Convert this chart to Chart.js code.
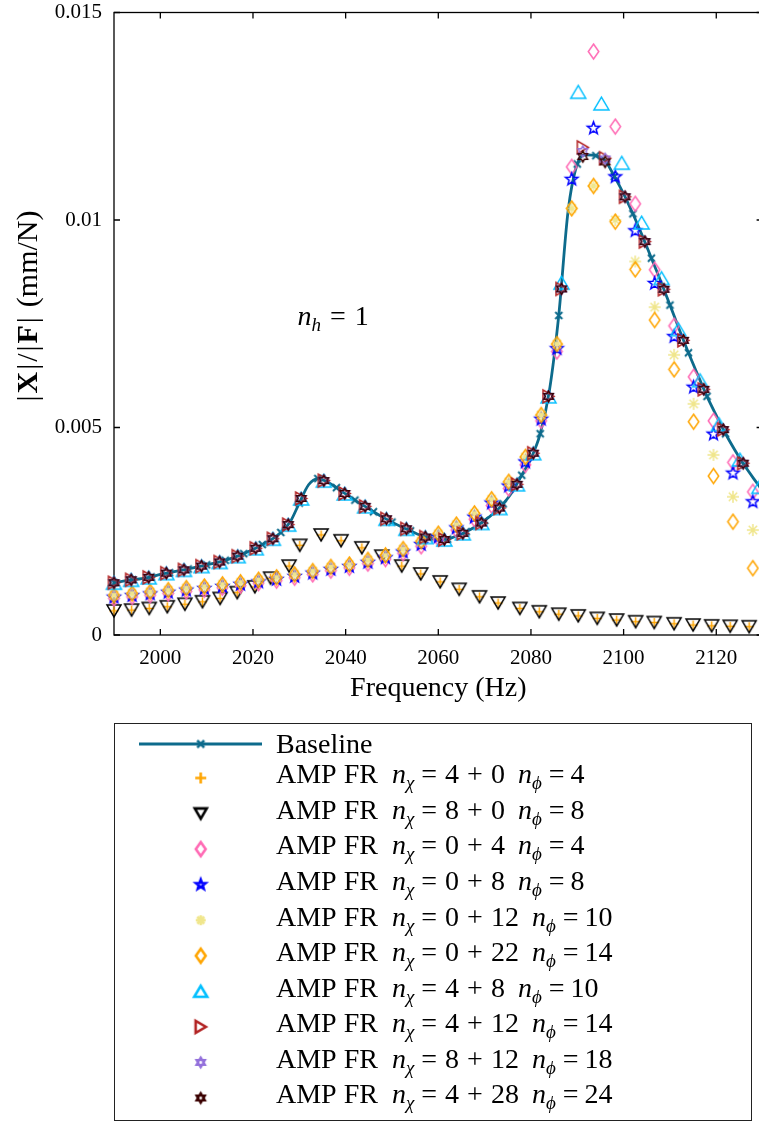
<!DOCTYPE html>
<html>
<head>
<meta charset="utf-8">
<script src="https://cdn.jsdelivr.net/npm/chart.js@4.4.1/dist/chart.umd.min.js"></script>
<style>
  html, body { margin: 0; padding: 0; background: #fff; overflow: hidden; }
  #wrap { position: absolute; left: 0; top: 0; width: 765px; height: 1122px; }
</style>
</head>
<body>
<div id="wrap"><canvas id="frf" width="765" height="1122"></canvas></div>
<script>
// axis ticks
const xTicks = [2000, 2020, 2040, 2060, 2080, 2100, 2120];
const yTicks = [0, 0.005, 0.01, 0.015];

// baseline FRF (line), Hz / mm/N
const baselineFreq = [1990, 1992, 1994, 1996, 1998, 2000, 2002, 2004, 2006, 2008, 2010, 2012, 2014, 2016, 2018,
  2020, 2022, 2024, 2026, 2028, 2030, 2032, 2034, 2036, 2038, 2040, 2042, 2044, 2046, 2048, 2050, 2052, 2054,
  2056, 2058, 2060, 2062, 2064, 2066, 2068, 2070, 2072, 2074, 2076, 2078, 2080, 2082, 2084, 2086, 2088, 2090,
  2092, 2094, 2096, 2098, 2100, 2102, 2104, 2106, 2108, 2110, 2112, 2114, 2116, 2118, 2120, 2122, 2124, 2126,
  2128, 2130];
const baselineMag = [0.00126, 0.0013, 0.00133, 0.00136, 0.0014, 0.00146, 0.0015, 0.00155, 0.00159, 0.00164,
  0.00169, 0.00174, 0.0018, 0.00187, 0.00196, 0.00206, 0.00218, 0.0023, 0.00247, 0.00272, 0.00318, 0.00362,
  0.00377, 0.00369, 0.00355, 0.0034, 0.00325, 0.00311, 0.00297, 0.00284, 0.00272, 0.00261, 0.00251, 0.00241,
  0.00234, 0.0023, 0.00231, 0.00239, 0.00249, 0.00261, 0.00276, 0.00294, 0.00316, 0.00345, 0.00385, 0.00425,
  0.00485, 0.0059, 0.0077, 0.0102, 0.01135, 0.01157, 0.01155, 0.01143, 0.01105, 0.01063, 0.01015, 0.00963,
  0.00908, 0.00853, 0.00795, 0.00737, 0.0068, 0.00627, 0.00575, 0.00529, 0.00485, 0.00446, 0.0041, 0.00378,
  0.00348];

// n_chi = 4+0 and 8+0 (the two sit on top of each other)
const lowFreq = [1990, 1993.8, 1997.6, 2001.5, 2005.3, 2009.1, 2012.9, 2016.6, 2020.4, 2023.8, 2027.8, 2030.1,
  2034.7, 2039.0, 2043.5, 2047.8, 2052.1, 2056.2, 2060.4, 2064.5, 2068.9, 2072.9, 2077.6, 2081.8, 2086.0,
  2090.2, 2094.3, 2098.5, 2102.6, 2106.6, 2110.9, 2115.0, 2119.0, 2123.0, 2127.1];
const lowMag = [0.00058, 0.0006, 0.00064, 0.00068, 0.00074, 0.0008, 0.00088, 0.00102, 0.00116, 0.00137,
  0.00166, 0.00216, 0.00241, 0.00227, 0.0021, 0.0019, 0.00166, 0.00147, 0.00128, 0.0011, 0.00092, 0.00077,
  0.00064, 0.00056, 0.0005, 0.00046, 0.0004, 0.00036, 0.00032, 0.0003, 0.00027, 0.00024, 0.00022, 0.00021,
  0.0002];

// n_chi = 0+4, 0+8, 0+12, 0+22
const midFreq = [1990, 1993.9, 1997.8, 2001.7, 2005.6, 2009.5, 2013.4, 2017.3, 2021.2, 2025.1, 2029.0, 2032.9,
  2036.8, 2040.8, 2044.8, 2048.6, 2052.4, 2056.3, 2060.0, 2063.9, 2067.8, 2071.5, 2075.2, 2078.8, 2082.2,
  2085.6, 2088.8, 2093.5, 2098.2, 2102.5, 2106.7, 2110.9, 2115.1, 2119.4, 2123.6, 2127.9];
const mag0p4 = [0.00088, 0.00092, 0.00096, 0.001, 0.00105, 0.00109, 0.00114, 0.00119, 0.00125, 0.00131,
  0.00138, 0.00146, 0.00155, 0.00162, 0.00172, 0.00183, 0.00197, 0.00214, 0.00232, 0.00253, 0.00279, 0.00312,
  0.00353, 0.0041, 0.00516, 0.00683, 0.01128, 0.01406, 0.01225, 0.01039, 0.0088, 0.00745, 0.00622, 0.00516,
  0.00416, 0.00345];
const mag0p8 = [0.00091, 0.00095, 0.00099, 0.00103, 0.00108, 0.00112, 0.00117, 0.00122, 0.00128, 0.00134,
  0.00141, 0.00149, 0.00158, 0.00165, 0.00175, 0.00186, 0.002, 0.00218, 0.00236, 0.00258, 0.00284, 0.00318,
  0.00359, 0.00417, 0.0052, 0.0069, 0.01098, 0.01221, 0.01104, 0.00974, 0.00847, 0.00719, 0.00597, 0.00484,
  0.0039, 0.00321];
const mag0p12 = [0.00096, 0.001, 0.00104, 0.00108, 0.00113, 0.00117, 0.00122, 0.00127, 0.00133, 0.00139,
  0.00146, 0.00154, 0.00164, 0.0017, 0.00181, 0.00192, 0.00207, 0.00226, 0.00244, 0.00266, 0.00293, 0.00327,
  0.00369, 0.00429, 0.0053, 0.00701, 0.01028, 0.01082, 0.01, 0.009, 0.0079, 0.00675, 0.00557, 0.00434,
  0.00333, 0.00253];
const mag0p22 = [0.00096, 0.001, 0.00104, 0.00108, 0.00113, 0.00117, 0.00122, 0.00127, 0.00133, 0.00139,
  0.00146, 0.00154, 0.00164, 0.0017, 0.00181, 0.00192, 0.00207, 0.00226, 0.00244, 0.00266, 0.00293, 0.00327,
  0.00369, 0.00429, 0.0053, 0.00701, 0.01028, 0.01082, 0.00996, 0.00881, 0.00759, 0.0064, 0.00514, 0.00383,
  0.00273, 0.00161];

// n_chi = 4+8 (own grid near the second peak)
const freq4p8 = [1990, 1993.7, 1997.5, 2001.3, 2005.1, 2008.9, 2012.8, 2016.7, 2020.6, 2024.3, 2027.6, 2030.4,
  2035.3, 2039.8, 2044.2, 2048.8, 2053.1, 2057.2, 2061.3, 2065.3, 2069.3, 2073.2, 2077.0, 2080.5, 2083.8,
  2086.6, 2090.2, 2095.2, 2099.6, 2103.9, 2108.2, 2111.8, 2116.5, 2120.6, 2125.1, 2129.3];
const mag4p8 = [0.00126, 0.00133, 0.00139, 0.00149, 0.00157, 0.00166, 0.00176, 0.0019, 0.00209, 0.00232,
  0.00266, 0.00329, 0.00372, 0.00341, 0.0031, 0.0028, 0.00256, 0.00236, 0.0023, 0.00245, 0.0027, 0.00306,
  0.00363, 0.00438, 0.00575, 0.00849, 0.01309, 0.01281, 0.01138, 0.00994, 0.0086, 0.00737, 0.00614, 0.00508,
  0.00423, 0.00357];

// n_chi = 4+12, 8+12, 4+28
const upFreq = [1990, 1993.7, 1997.5, 2001.3, 2005.1, 2008.9, 2012.8, 2016.7, 2020.6, 2024.3, 2027.6, 2030.4,
  2035.3, 2039.8, 2044.2, 2048.8, 2053.1, 2057.2, 2061.3, 2065.3, 2069.3, 2073.2, 2077.0, 2080.5, 2083.8,
  2086.6, 2091.2, 2096.0, 2100.3, 2104.6, 2108.7, 2112.9, 2117.3, 2121.5, 2125.8];
const mag4p12 = [0.00126, 0.00133, 0.00139, 0.00149, 0.00157, 0.00166, 0.00176, 0.0019, 0.00209, 0.00232,
  0.00266, 0.00329, 0.00372, 0.00341, 0.0031, 0.0028, 0.00256, 0.00236, 0.0023, 0.00245, 0.0027, 0.00306,
  0.00363, 0.00438, 0.00575, 0.00834, 0.01175, 0.01149, 0.01056, 0.00948, 0.00833, 0.0071, 0.00592, 0.00495,
  0.00414];
const mag8p12 = [0.00126, 0.00133, 0.00139, 0.00149, 0.00157, 0.00166, 0.00176, 0.0019, 0.00209, 0.00232,
  0.00266, 0.00329, 0.00372, 0.00341, 0.0031, 0.0028, 0.00256, 0.00236, 0.0023, 0.00245, 0.0027, 0.00306,
  0.00363, 0.00438, 0.00575, 0.00834, 0.01165, 0.01147, 0.01056, 0.00948, 0.00833, 0.0071, 0.00592, 0.00495,
  0.00414];
const mag4p28 = [0.00126, 0.00133, 0.00139, 0.00149, 0.00157, 0.00166, 0.00176, 0.0019, 0.00209, 0.00232,
  0.00266, 0.00329, 0.00372, 0.00341, 0.0031, 0.0028, 0.00256, 0.00236, 0.0023, 0.00245, 0.0027, 0.00306,
  0.00363, 0.00438, 0.00575, 0.00834, 0.01153, 0.0114, 0.01056, 0.00948, 0.00833, 0.0071, 0.00592, 0.00495,
  0.00414];

// legend text pieces: n_chi = chiA + chiB, n_phi
const chiA = ['4', '8', '0', '0', '0', '0', '4', '4', '8', '4'];
const chiB = ['0', '0', '4', '8', '12', '22', '8', '12', '12', '28'];
const nPhi = ['4', '8', '4', '8', '10', '14', '10', '14', '18', '24'];

const SERIF = '"Liberation Serif", "Times New Roman", serif';
const BASE_COLOR = '#0d6b8c';

function marker(kind, color, lw, size) {
  const pad = Math.ceil(lw) + 2;
  const dim = Math.ceil(size) + 2 * pad;
  const c = document.createElement('canvas');
  c.width = dim;
  c.height = dim;
  const g = c.getContext('2d');
  g.translate(dim / 2, dim / 2);
  g.strokeStyle = color;
  g.lineWidth = lw;
  g.lineJoin = 'miter';
  const r = size / 2;
  g.beginPath();
  if (kind === 'plus') {
    g.moveTo(-r, 0); g.lineTo(r, 0); g.moveTo(0, -r); g.lineTo(0, r);
  } else if (kind === 'cross') {
    g.moveTo(-r, -r); g.lineTo(r, r); g.moveTo(-r, r); g.lineTo(r, -r);
  } else if (kind === 'asterisk') {
    const d = r * 0.7;
    g.moveTo(-r, 0); g.lineTo(r, 0); g.moveTo(0, -r); g.lineTo(0, r);
    g.moveTo(-d, -d); g.lineTo(d, d); g.moveTo(-d, d); g.lineTo(d, -d);
  } else if (kind === 'triDown') {
    g.moveTo(-r, -r * 0.85); g.lineTo(r, -r * 0.85); g.lineTo(0, r * 0.85); g.closePath();
  } else if (kind === 'triUp') {
    g.moveTo(-r, r * 0.85); g.lineTo(r, r * 0.85); g.lineTo(0, -r * 0.85); g.closePath();
  } else if (kind === 'triRight') {
    g.moveTo(-r * 0.85, -r); g.lineTo(-r * 0.85, r); g.lineTo(r * 0.85, 0); g.closePath();
  } else if (kind === 'diamond') {
    g.moveTo(0, -r); g.lineTo(r * 0.7, 0); g.lineTo(0, r); g.lineTo(-r * 0.7, 0); g.closePath();
  } else if (kind === 'star5' || kind === 'star6') {
    const n = kind === 'star5' ? 5 : 6;
    const inner = kind === 'star5' ? 0.42 : 0.58;
    for (let k = 0; k < 2 * n; k++) {
      const rr = k % 2 ? r * inner : r;
      const a = -Math.PI / 2 + k * Math.PI / n;
      if (k === 0) g.moveTo(rr * Math.cos(a), rr * Math.sin(a));
      else g.lineTo(rr * Math.cos(a), rr * Math.sin(a));
    }
    g.closePath();
  }
  g.stroke();
  return c;
}

// one entry per AMP series, in the order of the legend
const ampSeries = [
  { freq: lowFreq, mag: lowMag, kind: 'plus', color: '#ffa500', size: 9, lsize: 11 },
  { freq: lowFreq, mag: lowMag, kind: 'triDown', color: '#000000', size: 14, lsize: 12 },
  { freq: midFreq, mag: mag0p4, kind: 'diamond', color: '#ff69b4', size: 15, lsize: 14 },
  { freq: midFreq, mag: mag0p8, kind: 'star5', color: '#0000ff', size: 13, lsize: 10 },
  { freq: midFreq, mag: mag0p12, kind: 'asterisk', color: '#f0e68c', size: 12, lsize: 10 },
  { freq: midFreq, mag: mag0p22, kind: 'diamond', color: '#ffa500', size: 15, lsize: 14 },
  { freq: freq4p8, mag: mag4p8, kind: 'triUp', color: '#00bfff', size: 15, lsize: 13 },
  { freq: upFreq, mag: mag4p12, kind: 'triRight', color: '#b22222', size: 13, lsize: 12 },
  { freq: upFreq, mag: mag8p12, kind: 'star6', color: '#9370db', size: 11, lsize: 9 },
  { freq: upFreq, mag: mag4p28, kind: 'star6', color: '#3a0000', size: 11, lsize: 9 },
];
ampSeries.forEach(s => {
  s.plotMarker = marker(s.kind, s.color, 1.5, s.size);
  s.legendMarker = marker(s.kind, s.color, 2.6, s.lsize);
});
const baseMarker = marker('cross', BASE_COLOR, 2, 7);
const baseLegendMarker = marker('cross', BASE_COLOR, 2.6, 7);

const toPoints = (fs, ms) => fs.map((f, i) => ({ x: f, y: ms[i] }));

const datasets = [{
  label: 'Baseline',
  data: toPoints(baselineFreq, baselineMag),
  showLine: true,
  borderColor: BASE_COLOR,
  borderWidth: 2.8,
  cubicInterpolationMode: 'monotone',
  pointStyle: baseMarker,
  pointRadius: ctx => ((baselineFreq[ctx.dataIndex] - 1990) % 4 === 0 ? 4 : 0),
  clip: false,
  order: ampSeries.length + 1,
}];
ampSeries.forEach((s, i) => {
  datasets.push({
    label: `AMP FR nχ = ${chiA[i]} + ${chiB[i]} nϕ = ${nPhi[i]}`,
    data: toPoints(s.freq, s.mag),
    showLine: false,
    pointStyle: s.plotMarker,
    pointRadius: 6,
    clip: false,
    order: ampSeries.length - i,
  });
});

function richWidth(ctx, segs) {
  return segs.reduce((w, s) => {
    ctx.font = s.f;
    return w + ctx.measureText(s.t).width + (s.gap || 0);
  }, 0);
}
function drawRich(ctx, x, y, segs) {
  segs.forEach(s => {
    ctx.font = s.f;
    ctx.fillText(s.t, x, y + (s.dy || 0));
    x += ctx.measureText(s.t).width + (s.gap || 0);
  });
}

const RM = `28px ${SERIF}`;
const IT = `italic 28px ${SERIF}`;
const SUB = `italic 19px ${SERIF}`;
const TITLE_RM = `30px ${SERIF}`;
const TITLE_BF = `bold 30px ${SERIF}`;

// drop the label-overflow padding chart.js adds, so the plot box sits where the axes say
const noPad = s => { s.paddingLeft = 0; s.paddingRight = 0; s.paddingTop = 0; s.paddingBottom = 0; };

const framePlugin = {
  id: 'frame',
  beforeDatasetsDraw(chart) {
    const { ctx, chartArea: a, scales: { x, y } } = chart;
    ctx.save();
    ctx.strokeStyle = '#000';
    ctx.lineWidth = 1.3;
    ctx.strokeRect(a.left, a.top, a.right - a.left, a.bottom - a.top);
    ctx.beginPath();
    xTicks.forEach(v => {
      const px = x.getPixelForValue(v);
      ctx.moveTo(px, a.bottom); ctx.lineTo(px, a.bottom - 6);
      ctx.moveTo(px, a.top); ctx.lineTo(px, a.top + 6);
    });
    yTicks.forEach(v => {
      const py = y.getPixelForValue(v);
      ctx.moveTo(a.left, py); ctx.lineTo(a.left + 6, py);
      ctx.moveTo(a.right, py); ctx.lineTo(a.right - 6, py);
    });
    ctx.stroke();
    ctx.restore();
  },
};

const textPlugin = {
  id: 'texts',
  afterDraw(chart) {
    const { ctx, scales: { x, y } } = chart;
    ctx.save();
    ctx.fillStyle = '#000';
    ctx.textBaseline = 'alphabetic';
    ctx.textAlign = 'left';

    // y axis title  |X|/|F| (mm/N)
    const yTitle = [
      { t: '|', f: TITLE_RM, gap: 2 }, { t: 'X', f: TITLE_BF, gap: 2 }, { t: '|', f: TITLE_RM, gap: 2 },
      { t: '/', f: TITLE_RM, gap: 2 }, { t: '|', f: TITLE_RM, gap: 2 }, { t: 'F', f: TITLE_BF, gap: 2 },
      { t: '|', f: TITLE_RM, gap: 10 }, { t: '(mm/N)', f: TITLE_RM },
    ];
    const tw = richWidth(ctx, yTitle);
    ctx.save();
    ctx.translate(37, 306);
    ctx.rotate(-Math.PI / 2);
    drawRich(ctx, -tw / 2, 0, yTitle);
    ctx.restore();

    // n_h = 1
    drawRich(ctx, x.getPixelForValue(2029.6), y.getPixelForValue(0.00748), [
      { t: 'n', f: IT }, { t: 'h', f: SUB, dy: 6, gap: 9 }, { t: '=', f: RM, gap: 9 }, { t: '1', f: RM },
    ]);

    // legend
    ctx.strokeStyle = '#222';
    ctx.lineWidth = 1;
    ctx.strokeRect(114.5, 723.5, 637, 397);
    const mx = 200.7;
    const tx = 276;
    ctx.strokeStyle = BASE_COLOR;
    ctx.lineWidth = 2.8;
    ctx.beginPath();
    ctx.moveTo(139, 744); ctx.lineTo(262, 744);
    ctx.stroke();
    ctx.drawImage(baseLegendMarker, mx - baseLegendMarker.width / 2, 744 - baseLegendMarker.height / 2);
    drawRich(ctx, tx, 744 + 9.3, [{ t: 'Baseline', f: RM }]);
    ampSeries.forEach((s, i) => {
      const cy = 774 + 35.55 * i;
      const m = s.legendMarker;
      ctx.drawImage(m, mx - m.width / 2, cy + 4 - m.height / 2);
      drawRich(ctx, tx, cy + 9.3, [
        { t: 'AMP FR', f: RM, gap: 14 },
        { t: 'n', f: IT }, { t: 'χ', f: SUB, dy: 6, gap: 7 },
        { t: '=', f: RM, gap: 8 }, { t: chiA[i], f: RM, gap: 8 },
        { t: '+', f: RM, gap: 8 }, { t: chiB[i], f: RM, gap: 13 },
        { t: 'n', f: IT }, { t: 'ϕ', f: SUB, dy: 6, gap: 7 },
        { t: '=', f: RM, gap: 6 }, { t: nPhi[i], f: RM },
      ]);
    });
    ctx.restore();
  },
};

new Chart(document.getElementById('frf'), {
  type: 'scatter',
  data: { datasets },
  options: {
    responsive: false,
    animation: false,
    devicePixelRatio: 1,
    // the x axis runs to 2130, just past the picture's right edge (canvas is wider than the view)
    layout: { autoPadding: false, padding: { left: 0, top: 12.5, right: 2.4, bottom: 407 } },
    plugins: { legend: { display: false }, tooltip: { enabled: false } },
    scales: {
      x: {
        type: 'linear',
        min: 1990,
        max: 2130,
        afterBuildTicks: s => { s.ticks = xTicks.map(v => ({ value: v })); },
        afterFit: s => { s.height = 80; noPad(s); },
        grid: { display: false, drawTicks: false },
        border: { display: false },
        ticks: {
          autoSkip: false,
          maxRotation: 0,
          padding: 11,
          color: '#000',
          font: { family: SERIF, size: 21 },
          callback: v => String(v),
        },
        title: {
          display: true,
          text: 'Frequency (Hz)',
          color: '#000',
          font: { family: SERIF, size: 28 },
          padding: { top: 0, bottom: 10 },
        },
      },
      y: {
        min: 0,
        max: 0.015,
        afterBuildTicks: s => { s.ticks = yTicks.map(v => ({ value: v })); },
        afterFit: s => { s.width = 114; noPad(s); },
        grid: { display: false, drawTicks: false },
        border: { display: false },
        ticks: {
          padding: 12,
          color: '#000',
          font: { family: SERIF, size: 21 },
          callback: v => (v === 0 ? '0' : String(+v.toFixed(3))),
        },
      },
    },
  },
  plugins: [framePlugin, textPlugin],
});
</script>
</body>
</html>
